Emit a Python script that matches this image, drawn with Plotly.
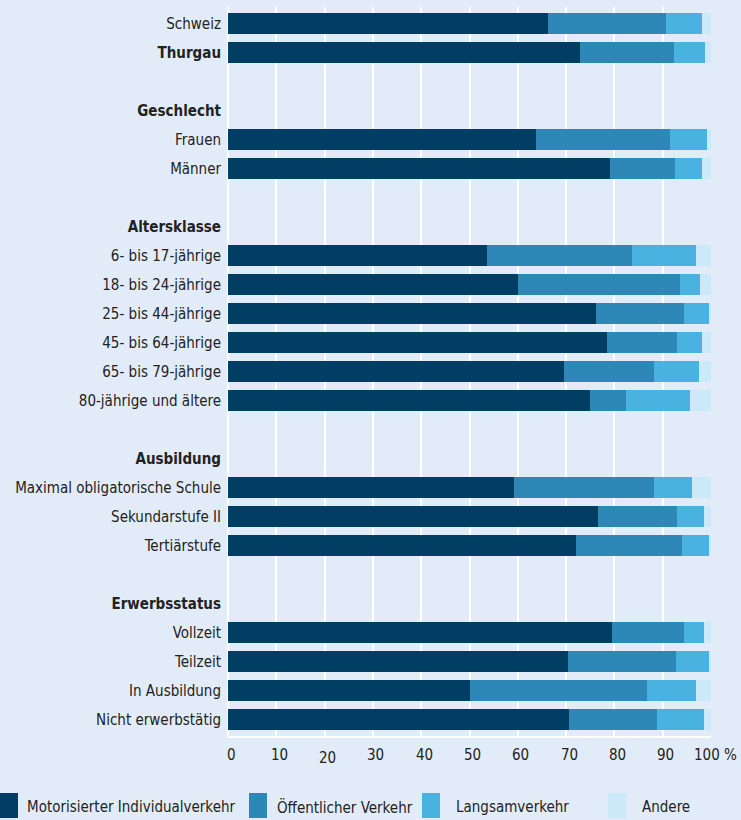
import plotly.graph_objects as go

# Row labels (empty string = spacer row); group headings are bold
rows = [
    "Schweiz", "Thurgau", "",
    "Geschlecht", "Frauen", "Männer", "",
    "Altersklasse", "6- bis 17-jährige", "18- bis 24-jährige", "25- bis 44-jährige",
    "45- bis 64-jährige", "65- bis 79-jährige", "80-jährige und ältere", "",
    "Ausbildung", "Maximal obligatorische Schule", "Sekundarstufe II", "Tertiärstufe", "",
    "Erwerbsstatus", "Vollzeit", "Teilzeit", "In Ausbildung", "Nicht erwerbstätig",
]
bold_rows = ["Thurgau", "Geschlecht", "Altersklasse", "Ausbildung", "Erwerbsstatus"]

series_names = ["Motorisierter Individualverkehr", "Öffentlicher Verkehr", "Langsamverkehr", "Andere"]
series_colors = ["#003e64", "#2d88b8", "#49b2e0", "#cce9f9"]

# Shares in % (None for spacer and heading rows)
miv = [66.3, 72.9, None, None, 63.8, 79.1, None, None, 53.6, 60.1, 76.2, 78.5, 69.6, 75.0, None,
       None, 59.2, 76.7, 72.1, None, None, 79.6, 70.4, 50.1, 70.6]
oev = [24.3, 19.5, None, None, 27.8, 13.5, None, None, 30.1, 33.4, 18.3, 14.5, 18.7, 7.3, None,
       None, 28.9, 16.3, 21.8, None, None, 14.9, 22.4, 36.7, 18.3]
lv = [7.6, 6.3, None, None, 7.5, 5.6, None, None, 13.1, 4.3, 5.2, 5.2, 9.3, 13.4, None,
      None, 7.9, 5.5, 5.8, None, None, 4.1, 6.9, 10.0, 9.6]
andere = [1.8, 1.3, None, None, 0.9, 1.8, None, None, 3.2, 2.2, 0.3, 1.8, 2.4, 4.3, None,
          None, 4.0, 1.5, 0.3, None, None, 1.4, 0.3, 3.2, 1.5]
series_values = [miv, oev, lv, andere]

x_ticks = [0, 10, 20, 30, 40, 50, 60, 70, 80, 90, 100]
x_tick_labels = ["0", "10", "20", "30", "40", "50", "60", "70", "80", "90", "100 %"]

FONT = "Liberation Sans Narrow, DejaVu Sans Condensed, Roboto, sans-serif"
FONT_SIZE = 15
TEXT_COLOR = "#222222"
BG = "#e2ecf8"

W, H = 741, 820
ML, MR, MT, MB = 228, 30, 7, 84
PW, PH = W - ML - MR, H - MT - MB

ypos = list(range(len(rows)))

fig = go.Figure()
for name, vals, col in zip(series_names, series_values, series_colors):
    fig.add_trace(go.Bar(
        y=ypos, x=vals, name=name, orientation="h",
        marker=dict(color=col, line=dict(width=0)),
        width=0.72, showlegend=False, hoverinfo="x+name",
    ))

tick_vals = [i for i, r in enumerate(rows) if r]
tick_text = [f"<b>{r}</b>" if r in bold_rows else r for r in rows if r]

fig.update_layout(
    barmode="stack",
    width=W, height=H,
    margin=dict(l=ML, r=MR, t=MT, b=MB, pad=0),
    paper_bgcolor=BG, plot_bgcolor=BG,
    font=dict(family=FONT, size=FONT_SIZE, color=TEXT_COLOR),
    xaxis=dict(
        range=[0, 100], tickvals=x_ticks, showticklabels=False,
        showgrid=True, gridcolor="white", gridwidth=2,
        zeroline=True, zerolinecolor="white", zerolinewidth=2,
        showline=True, linecolor="white", linewidth=2, ticks="",
        fixedrange=True, automargin=False,
    ),
    yaxis=dict(
        range=[24.57, -0.57], tickvals=tick_vals, ticktext=tick_text,
        showgrid=False, zeroline=False, ticks="", ticklabelstandoff=6,
        tickfont=dict(family=FONT, size=FONT_SIZE, color=TEXT_COLOR),
        fixedrange=True, automargin=False,
    ),
)

# x-axis tick labels
for v, lab in zip(x_ticks, x_tick_labels):
    fig.add_annotation(
        x=v, y=0, xref="x", yref="paper", text=lab, showarrow=False,
        xanchor="center", yanchor="middle", xshift=3 if lab != "100 %" else 4,
        yshift=-22 if v == 20 else -19,
        font=dict(family=FONT, size=FONT_SIZE, color=TEXT_COLOR),
    )


def px_x(px):
    return (px - ML) / PW


def px_y(py):
    return (H - MB - py) / PH


# custom legend: tall colour swatches followed by labels
legend_swatch_x = [0, 249, 422, 608]
legend_text_x = [25, 275, 454, 640]
for name, col, sx, tx in zip(series_names, series_colors, legend_swatch_x, legend_text_x):
    fig.add_shape(
        type="rect", xref="paper", yref="paper",
        x0=px_x(sx), x1=px_x(sx + 18), y0=px_y(818), y1=px_y(793),
        fillcolor=col, line=dict(width=0),
    )
    fig.add_annotation(
        x=px_x(tx), y=px_y(807), xref="paper", yref="paper", text=name,
        showarrow=False, xanchor="left", yanchor="middle",
        font=dict(family=FONT, size=FONT_SIZE, color=TEXT_COLOR),
    )

fig.write_html("out.html")
